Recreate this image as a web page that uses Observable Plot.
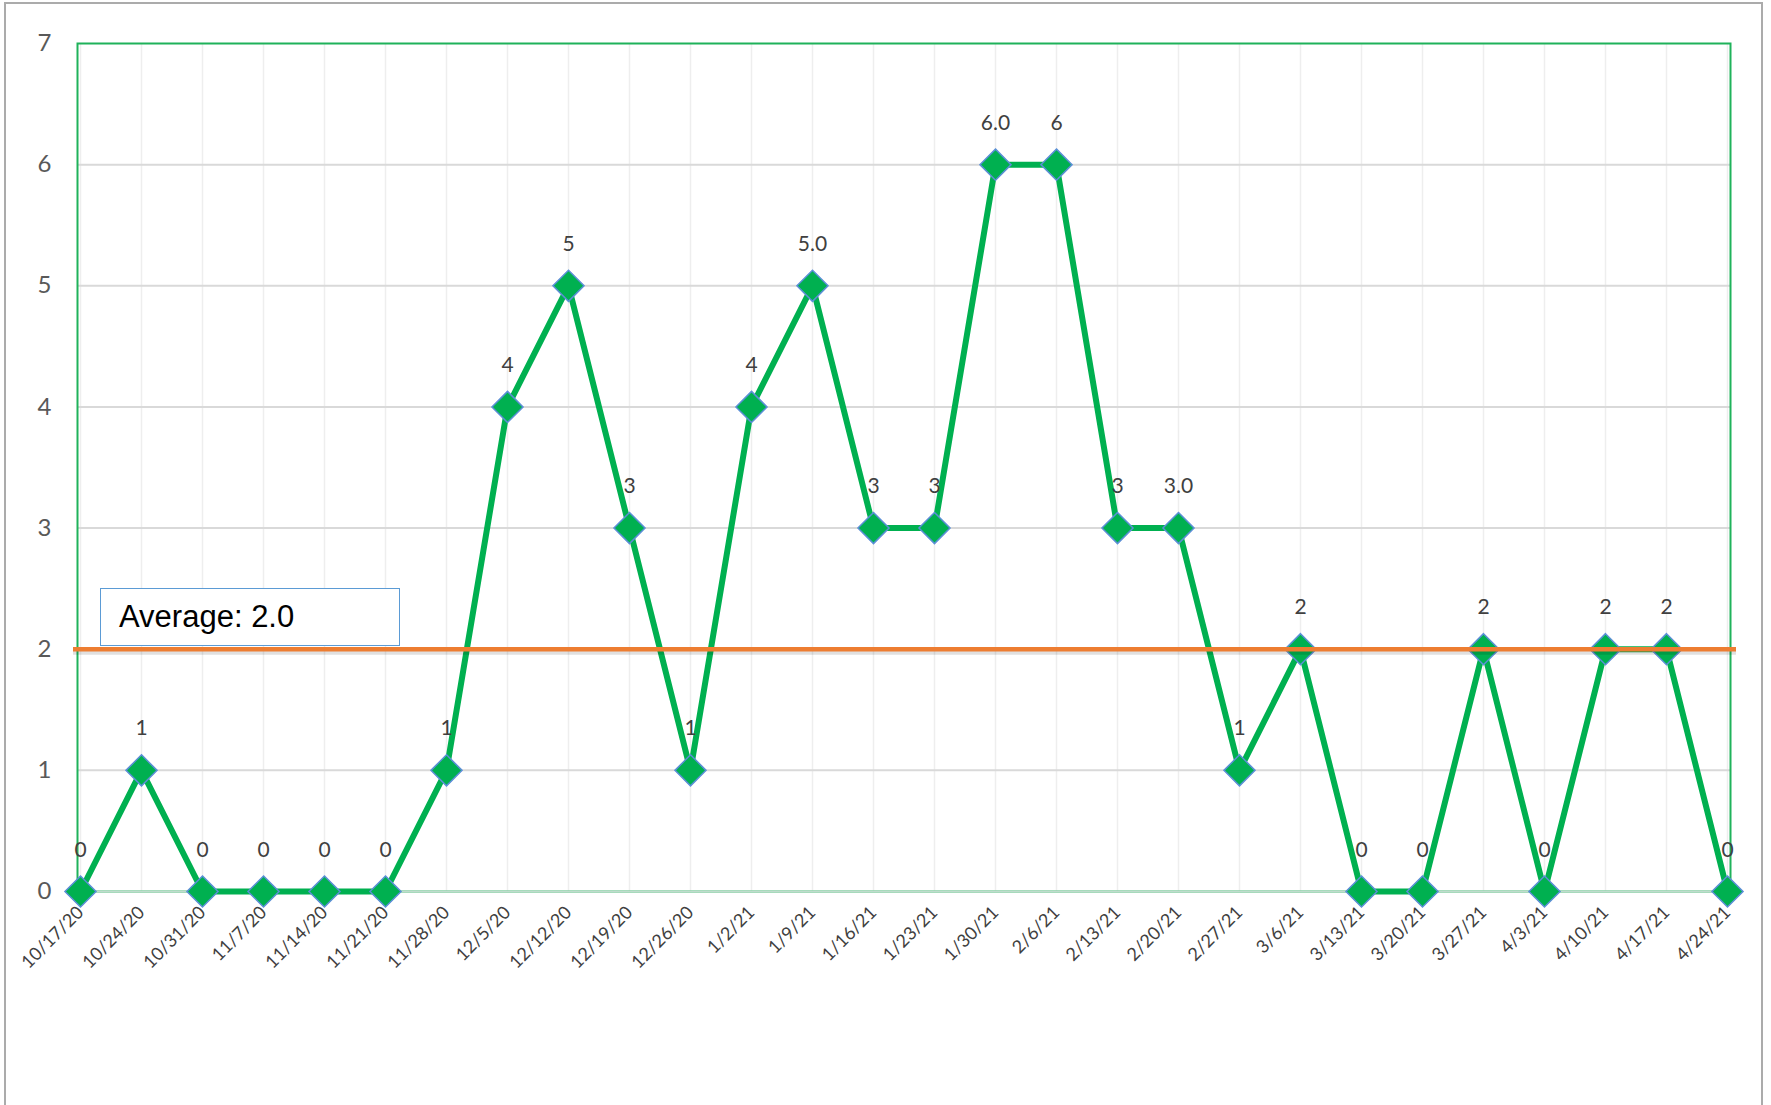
<!DOCTYPE html>
<html><head><meta charset="utf-8">
<script src="https://cdn.jsdelivr.net/npm/d3@7"></script>
<script src="https://cdn.jsdelivr.net/npm/@observablehq/plot@0.6"></script>
<style>
html,body{margin:0;padding:0;background:#fff;}
#wrap{position:relative;width:1771px;height:1105px;overflow:hidden;}
#border{position:absolute;left:4px;top:2px;width:1759px;height:1120px;border:2px solid #ababab;box-sizing:border-box;pointer-events:none;}
#avg{position:absolute;left:100px;top:588px;width:300px;height:58px;border:1.5px solid #5b9bd5;box-sizing:border-box;background:#fff;font-family:"Liberation Sans",Arial,sans-serif;font-size:31px;color:#000;padding-left:18px;line-height:56px;white-space:nowrap;}
</style></head>
<body>
<div id="wrap"><div id="border"></div></div>
<script>
const dates = ["10/17/20","10/24/20","10/31/20","11/7/20","11/14/20","11/21/20","11/28/20","12/5/20","12/12/20","12/19/20","12/26/20","1/2/21","1/9/21","1/16/21","1/23/21","1/30/21","2/6/21","2/13/21","2/20/21","2/27/21","3/6/21","3/13/21","3/20/21","3/27/21","4/3/21","4/10/21","4/17/21","4/24/21"];
const values = [0,1,0,0,0,0,1,4,5,3,1,4,5,3,3,6,6,3,3,1,2,0,0,2,0,2,2,0];
const labels = ["0","1","0","0","0","0","1","4","5","3","1","4","5.0","3","3","6.0","6","3","3.0","1","2","0","0","2","0","2","2","0"];
const yTicks = [0,1,2,3,4,5,6,7];

const data = dates.map((d, i) => ({date: d, value: values[i], label: labels[i]}));
const avgRaw = d3.mean(values);
const avg = +avgRaw.toFixed(1);

const chart = Plot.plot({
  width: 1771, height: 1105,
  marginLeft: 77, marginRight: 41, marginTop: 43, marginBottom: 214,
  style: {fontFamily: "Lato, 'Open Sans', sans-serif", background: "transparent", overflow: "visible"},
  x: {type: "point", domain: dates, padding: 0},
  y: {domain: [0, 7]},
  marks: [
    Plot.ruleX(dates, {x: d => d, stroke: "#eeeeee", strokeWidth: 1.5}),
    Plot.ruleY(yTicks.slice(1, -1), {stroke: "#d9d9d9", strokeWidth: 2}),
    Plot.frame({stroke: "#1fb25a", strokeWidth: 2}),
    Plot.ruleY([0], {stroke: "#bfdccc", strokeWidth: 2}),
    Plot.axisY({ticks: yTicks, tickFormat: d3.format("d"), tickSize: 0, tickPadding: 26, fontSize: 24, color: "#595959", label: null}),
    Plot.axisX({tickRotate: -45, tickSize: 0, tickPadding: 18, fontSize: 18, color: "#404040", label: null}),
    Plot.line(data, {x: "date", y: "value", stroke: "#00b050", strokeWidth: 6, strokeLinejoin: "miter"}),
    Plot.dot(data, {x: "date", y: "value", symbol: "diamond2", r: 14, fill: "#00b050", stroke: "#5b8fd6", strokeWidth: 1.5}),
    Plot.ruleY([avg], {stroke: "#000", strokeOpacity: 0.12, strokeWidth: 5, dy: 3, insetLeft: -4, insetRight: -6}),
    Plot.ruleY([avg], {stroke: "#ed7d31", strokeWidth: 4.5, insetLeft: -4, insetRight: -6}),
    Plot.text(data, {x: "date", y: "value", text: "label", dy: -35, lineAnchor: "bottom", fontSize: 21, fill: "#404040"})
  ]
});
const wrap = document.getElementById("wrap");
wrap.insertBefore(chart, wrap.firstChild);
chart.style.position = "absolute"; chart.style.left = "0"; chart.style.top = "0";
const box = document.createElement("div");
box.id = "avg";
box.textContent = "Average: " + avgRaw.toFixed(1);
wrap.appendChild(box);
</script>
</body></html>
